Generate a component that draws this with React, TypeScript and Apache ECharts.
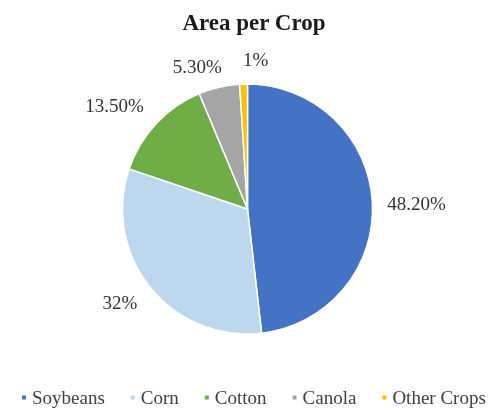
import React, { useEffect, useRef } from "react";
import * as echarts from "echarts";

const categories = ["Soybeans", "Corn", "Cotton", "Canola", "Other Crops"];
const values = [48.2, 32, 13.5, 5.3, 1];
const labels = ["48.20%", "32%", "13.50%", "5.30%", "1%"];
const colors = ["#4472C4", "#BDD7EE", "#70AD47", "#A5A5A5", "#FFC000"];

// small nudges so the outside labels sit where the reference places them
const labelNudgeX = [0, 0, 0, 10, 30];
const labelNudgeY = [2, 9, -11, -11, -15];

export default function App() {
  const ref = useRef<HTMLDivElement>(null);
  useEffect(() => {
    if (!ref.current) return;
    const chart = echarts.init(ref.current, null, { renderer: "svg" });
    const font = "Liberation Serif";
    chart.setOption({
      animation: false,
      textStyle: { fontFamily: font },
      title: {
        text: "Area per Crop",
        left: 249,
        textAlign: "center",
        top: 6,
        textStyle: { fontFamily: font, fontSize: 23, fontWeight: "bold", color: "#1a1a1a" },
      },
      legend: {
        top: 383,
        left: 15,
        icon: "rect",
        itemWidth: 6,
        itemHeight: 6,
        itemGap: 24,
        textStyle: { fontFamily: font, fontSize: 19, color: "#404040" },
        data: categories,
      },
      series: [
        {
          type: "pie",
          center: [247.5, 209],
          radius: 125,
          startAngle: 90,
          clockwise: true,
          avoidLabelOverlap: false,
          itemStyle: { borderColor: "#fff", borderWidth: 1.5 },
          label: {
            show: true,
            position: "outside",
            fontFamily: font,
            fontSize: 19,
            color: "#333",
            formatter: (p: any) => labels[p.dataIndex],
          },
          labelLine: { show: false, length: 10, length2: 0 },
          labelLayout: (p: any) => ({
            dx: labelNudgeX[p.dataIndex],
            dy: labelNudgeY[p.dataIndex],
          }),
          emphasis: { disabled: true },
          data: categories.map((c, i) => ({
            name: c,
            value: values[i],
            itemStyle: { color: colors[i] },
          })),
        },
      ],
    });
    return () => chart.dispose();
  }, []);
  return (
    <div
      ref={ref}
      style={{ position: "fixed", left: 0, top: 0, width: 491, height: 411 }}
    />
  );
}
